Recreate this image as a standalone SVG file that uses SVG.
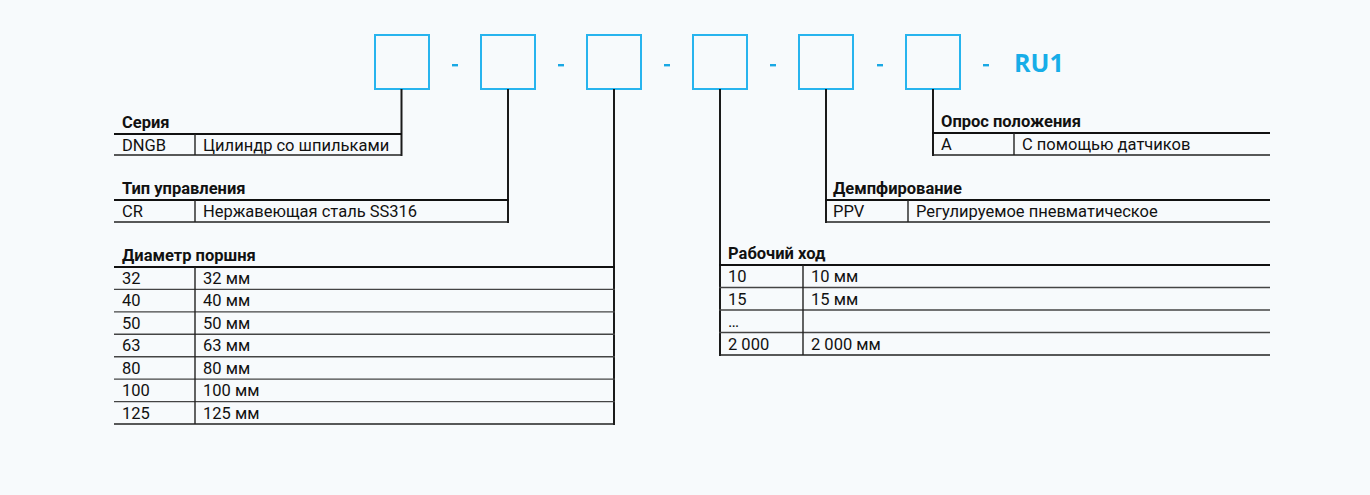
<svg xmlns="http://www.w3.org/2000/svg" width="1370" height="495" viewBox="0 0 1370 495">
<style>
.bx{fill:none;stroke:#27b4ee;stroke-width:2}
.dash{fill:#1aa8e4}
.code{font-family:"Open Sans","Liberation Sans",sans-serif;font-weight:700;font-size:25px;fill:#17ade8}
.hd{font-family:Roboto,"Liberation Sans",sans-serif;font-weight:700;font-size:16.5px;fill:#111}
.tx{font-family:Roboto,"Liberation Sans",sans-serif;font-size:16.5px;fill:#111}
.conn{stroke:#1a1a1a;stroke-width:2;fill:none}
.hl{stroke:#111;stroke-width:2.2}
.rl{stroke:#444;stroke-width:1.4}
.bl{stroke:#222;stroke-width:1.6}
.dv{stroke:#222;stroke-width:1.4}
</style>
<rect width="1370" height="495" fill="#f7fafc"/>
<g id="code">
<rect class="bx" x="375" y="35" width="54" height="54"/>
<rect class="bx" x="481" y="35" width="54" height="54"/>
<rect class="bx" x="587" y="35" width="54" height="54"/>
<rect class="bx" x="693" y="35" width="54" height="54"/>
<rect class="bx" x="799" y="35" width="54" height="54"/>
<rect class="bx" x="906" y="35" width="54" height="54"/>
<rect class="dash" x="452" y="64" width="6" height="2.4"/>
<rect class="dash" x="558" y="64" width="6" height="2.4"/>
<rect class="dash" x="664" y="64" width="6" height="2.4"/>
<rect class="dash" x="770" y="64" width="6" height="2.4"/>
<rect class="dash" x="877" y="64" width="6" height="2.4"/>
<rect class="dash" x="983" y="64" width="6" height="2.4"/>
<text class="code" x="1014" y="72">RU1</text>
</g>
<g id="connectors">
<line class="conn" x1="401.5" y1="89" x2="401.5" y2="156"/>
<line class="conn" x1="508" y1="89" x2="508" y2="223"/>
<line class="conn" x1="614" y1="89" x2="614" y2="425"/>
<line class="conn" x1="720" y1="89" x2="720" y2="356"/>
<line class="conn" x1="826" y1="89" x2="826" y2="223"/>
<line class="conn" x1="933" y1="89" x2="933" y2="156"/>
</g>
<g id="series">
<text class="hd" x="122" y="128">Серия</text>
<line class="hl" x1="114" y1="134" x2="402" y2="134"/>
<line class="bl" x1="114" y1="155" x2="402" y2="155"/>
<line class="dv" x1="195" y1="134" x2="195" y2="155"/>
<text class="tx" x="122" y="150.5">DNGB</text>
<text class="tx" x="203" y="150.5">Цилиндр со шпильками</text>
</g>
<g id="control">
<text class="hd" x="122" y="194">Тип управления</text>
<line class="hl" x1="114" y1="200" x2="509" y2="200"/>
<line class="bl" x1="114" y1="222" x2="509" y2="222"/>
<line class="dv" x1="195" y1="200" x2="195" y2="222"/>
<text class="tx" x="122" y="216.5">CR</text>
<text class="tx" x="203" y="216.5">Нержавеющая сталь SS316</text>
</g>
<g id="diameter">
<text class="hd" x="122" y="261">Диаметр поршня</text>
<line class="hl" x1="114" y1="267" x2="615" y2="267"/>
<line class="rl" x1="114" y1="289.4" x2="615" y2="289.4"/>
<line class="rl" x1="114" y1="311.9" x2="615" y2="311.9"/>
<line class="rl" x1="114" y1="334.3" x2="615" y2="334.3"/>
<line class="rl" x1="114" y1="356.7" x2="615" y2="356.7"/>
<line class="rl" x1="114" y1="379.1" x2="615" y2="379.1"/>
<line class="rl" x1="114" y1="401.6" x2="615" y2="401.6"/>
<line class="bl" x1="114" y1="424" x2="615" y2="424"/>
<line class="dv" x1="195" y1="267" x2="195" y2="424"/>
<text class="tx" x="122" y="284">32</text><text class="tx" x="203" y="284">32 мм</text>
<text class="tx" x="122" y="306.4">40</text><text class="tx" x="203" y="306.4">40 мм</text>
<text class="tx" x="122" y="328.9">50</text><text class="tx" x="203" y="328.9">50 мм</text>
<text class="tx" x="122" y="351.3">63</text><text class="tx" x="203" y="351.3">63 мм</text>
<text class="tx" x="122" y="373.7">80</text><text class="tx" x="203" y="373.7">80 мм</text>
<text class="tx" x="122" y="396.1">100</text><text class="tx" x="203" y="396.1">100 мм</text>
<text class="tx" x="122" y="418.6">125</text><text class="tx" x="203" y="418.6">125 мм</text>
</g>
<g id="stroke">
<text class="hd" x="728" y="259">Рабочий ход</text>
<line class="hl" x1="719" y1="265" x2="1270" y2="265"/>
<line class="rl" x1="719" y1="287.5" x2="1270" y2="287.5"/>
<line class="rl" x1="719" y1="310" x2="1270" y2="310"/>
<line class="rl" x1="719" y1="332.5" x2="1270" y2="332.5"/>
<line class="bl" x1="719" y1="355" x2="1270" y2="355"/>
<line class="dv" x1="803" y1="265" x2="803" y2="355"/>
<text class="tx" x="728" y="282">10</text><text class="tx" x="811" y="282">10 мм</text>
<text class="tx" x="728" y="304.5">15</text><text class="tx" x="811" y="304.5">15 мм</text>
<text class="tx" x="728" y="327">…</text>
<text class="tx" x="728" y="349.5">2 000</text><text class="tx" x="811" y="349.5">2 000 мм</text>
</g>
<g id="damping">
<text class="hd" x="833" y="194">Демпфирование</text>
<line class="hl" x1="825" y1="200" x2="1270" y2="200"/>
<line class="bl" x1="825" y1="222" x2="1270" y2="222"/>
<line class="dv" x1="908" y1="200" x2="908" y2="222"/>
<text class="tx" x="833" y="216.5">PPV</text>
<text class="tx" x="916" y="216.5">Регулируемое пневматическое</text>
</g>
<g id="position">
<text class="hd" x="941" y="127">Опрос положения</text>
<line class="hl" x1="932" y1="133" x2="1270" y2="133"/>
<line class="bl" x1="932" y1="155" x2="1270" y2="155"/>
<line class="dv" x1="1014" y1="133" x2="1014" y2="155"/>
<text class="tx" x="941" y="149.5">A</text>
<text class="tx" x="1022" y="149.5">С помощью датчиков</text>
</g>
</svg>
